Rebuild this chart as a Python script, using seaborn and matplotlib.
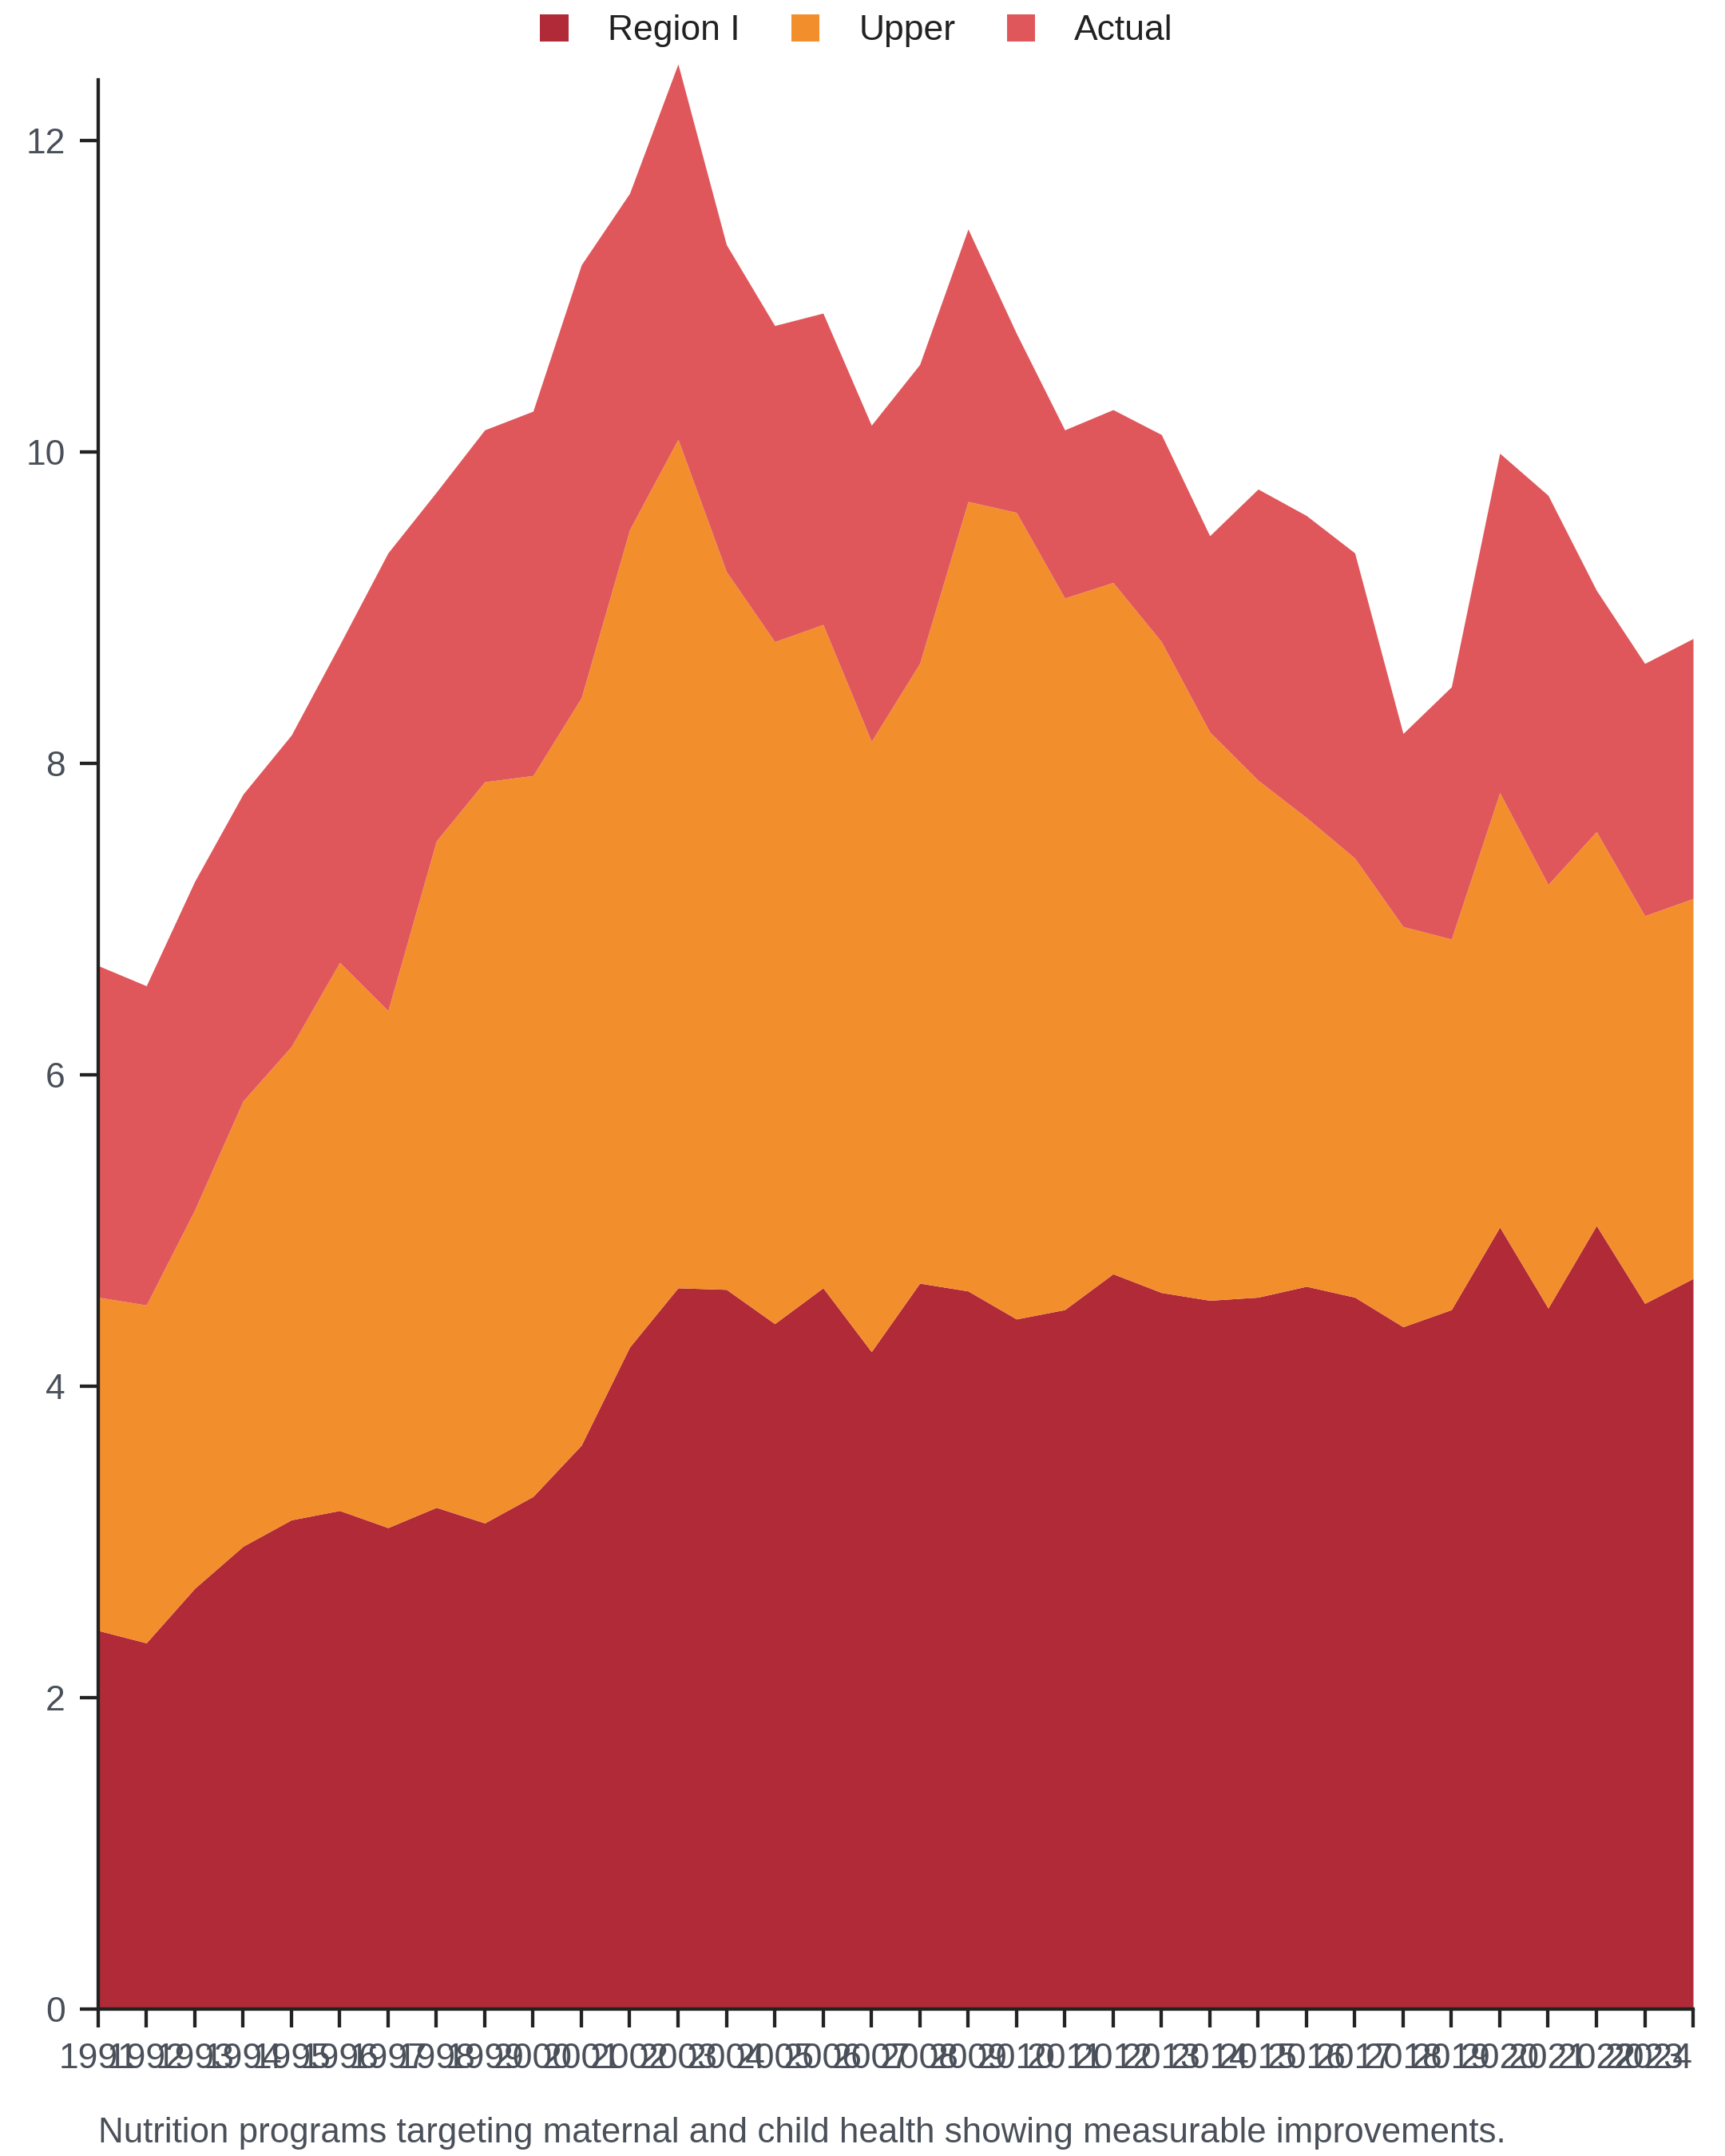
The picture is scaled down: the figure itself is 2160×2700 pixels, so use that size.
import numpy as np
import pandas as pd
import matplotlib
matplotlib.use("Agg")
import matplotlib.pyplot as plt
from matplotlib.patches import Patch
import seaborn as sns

years = list(range(1991, 2025))
region_i = [2.43, 2.35, 2.70, 2.97, 3.14, 3.20, 3.09, 3.22, 3.12, 3.29,
            3.62, 4.25, 4.63, 4.62, 4.40, 4.63, 4.22, 4.66, 4.61, 4.43,
            4.49, 4.72, 4.60, 4.55, 4.57, 4.64, 4.57, 4.38, 4.49, 5.02,
            4.50, 5.03, 4.53, 4.69]
upper = [2.14, 2.17, 2.43, 2.86, 3.04, 3.52, 3.32, 4.28, 4.76, 4.63,
         4.80, 5.25, 5.45, 4.61, 4.38, 4.26, 3.92, 3.98, 5.07, 5.18,
         4.57, 4.44, 4.18, 3.65, 3.32, 3.01, 2.82, 2.57, 2.38, 2.79,
         2.72, 2.53, 2.49, 2.44]
actual = [2.13, 2.05, 2.11, 1.97, 2.00, 2.04, 2.94, 2.24, 2.26, 2.34,
          2.78, 2.16, 2.41, 2.10, 2.03, 2.00, 2.03, 1.92, 1.75, 1.15,
          1.08, 1.11, 1.33, 1.26, 1.87, 1.94, 1.96, 1.24, 1.62, 2.18,
          2.50, 1.55, 1.62, 1.67]
series_names = ["Region I", "Upper", "Actual"]
colors = ["#b02a37", "#f28e2c", "#e0575b"]
caption = "Nutrition programs targeting maternal and child health showing measurable improvements."

df = pd.DataFrame({"year": years, "Region I": region_i, "Upper": upper, "Actual": actual})

sns.set_theme(style="ticks")
plt.rcParams["font.family"] = ["Liberation Sans", "DejaVu Sans"]

fig = plt.figure(figsize=(10.8, 13.5), dpi=200)
ax = fig.add_axes([0.0568, 0.06826, 0.9247, 0.9064])

ax.stackplot(df["year"], df["Region I"], df["Upper"], df["Actual"],
             colors=colors, linewidth=0, labels=series_names)

ax.set_xlim(1991, 2024)
ax.set_ylim(0, 12.55)
ax.set_yticks([0, 2, 4, 6, 8, 10, 12])
ax.set_xticks(years)
ax.set_xticklabels([str(y) for y in years])
ax.spines["left"].set_bounds(0, 12.39)
sns.despine(ax=ax)
for s in ["left", "bottom"]:
    ax.spines[s].set_color("#222222")
    ax.spines[s].set_linewidth(1.55)
ax.tick_params(axis="both", length=8.3, width=1.55, color="#222222",
               labelsize=16, labelcolor="#4a5059")
ax.tick_params(axis="y", pad=6.5)
ax.tick_params(axis="x", pad=7)
xt = ax.get_xticklabels()
xt[-1].set_horizontalalignment("right")
ax.set_xlabel("")
ax.set_ylabel("")

handles = [Patch(facecolor=c, edgecolor="none", label=n) for c, n in zip(colors, series_names)]
fig.legend(handles=handles, loc="center", bbox_to_anchor=(0.4965, 0.9857), ncol=3,
           frameon=False, fontsize=16, handlelength=0.8, handleheight=0.8,
           handletextpad=1.1, columnspacing=1.45, labelcolor="#222222")

fig.text(0.0568, 0.0105, caption, ha="left", va="center", fontsize=15.8, color="#4a5059")

fig.savefig("out.png", dpi=200)
